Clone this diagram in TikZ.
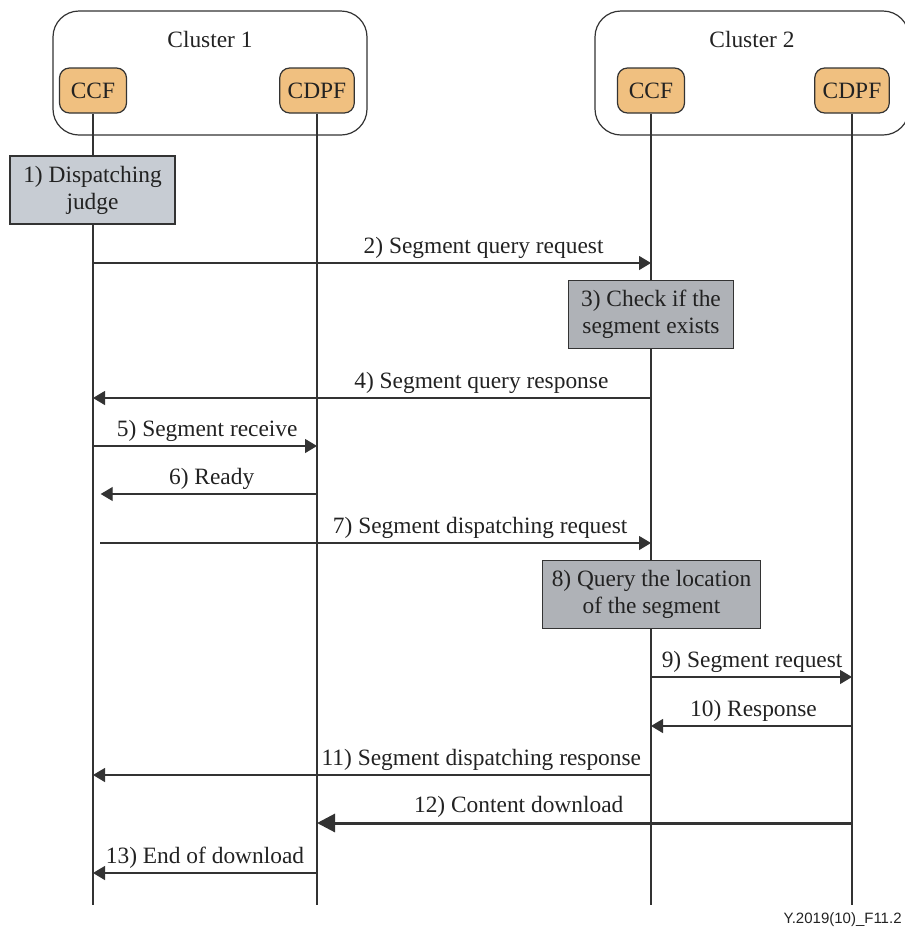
\documentclass[tikz,border=0pt]{standalone}
\usepackage{fontspec}
\setmainfont{Liberation Serif}
\newfontfamily\figfont{Liberation Sans}
\usepackage{tikz}
\usetikzlibrary{arrows.meta}

\definecolor{lineGray}{HTML}{333333}
\definecolor{textGray}{HTML}{222222}
\definecolor{funcOrange}{HTML}{F0C080}
\definecolor{judgeGray}{HTML}{C7CCD3}
\definecolor{checkGray}{HTML}{AFB2B7}

\tikzset{
	cluster/.style={draw=lineGray, line width=0.6pt, rounded corners=13pt,
		minimum width=157pt, minimum height=62pt},
	func/.style={draw=lineGray, line width=0.6pt, fill=funcOrange, rounded corners=5pt,
		minimum width=33.5pt, minimum height=22.5pt, inner xsep=4pt, text=textGray},
	action/.style={draw=lineGray, line width=0.6pt, align=center,
		minimum height=34pt, inner sep=2pt, text=textGray},
	life/.style={lineGray, line width=0.65pt},
	msg/.style={lineGray, line width=0.6pt, -{Triangle[length=6pt,width=7pt]}},
	bigmsg/.style={lineGray, line width=1.5pt, -{Triangle[length=9pt,width=9pt]}},
	lbl/.style={anchor=base, yshift=4.6pt, inner sep=0pt, text=textGray},
}

\begin{document}
\begin{tikzpicture}[x=0.5pt, y=-0.5pt, font=\fontsize{11.7}{13.5}\selectfont]
		\useasboundingbox (0,0) rectangle (905,928);
		%----------------------------------------------------
		% The two clusters and their functions
		%----------------------------------------------------
		\node [cluster] (cl1) at (210,73) {};
		\node [cluster] (cl2) at (752,73) {};
		\node [anchor=base, text=textGray] (t1) at (210,47) {Cluster 1};
		\node [anchor=base, text=textGray] (t2) at (752,47) {Cluster 2};
		
		\node [func] (ccfA)  at (93,90.5)  {CCF};
		\node [func] (cdpfA) at (317,90.5) {CDPF};
		\node [func] (ccfB)  at (651,90.5) {CCF};
		\node [func] (cdpfB) at (852,90.5) {CDPF};
		
		%----------------------------------------------------
		% Lifelines
		%----------------------------------------------------
		\coordinate (ccfA-end)  at (ccfA |- 0,905);
		\coordinate (cdpfA-end) at (cdpfA |- 0,905);
		\coordinate (ccfB-end)  at (ccfB |- 0,905);
		\coordinate (cdpfB-end) at (cdpfB |- 0,905);
		\draw [life] (ccfA)  -- (ccfA-end);
		\draw [life] (cdpfA) -- (cdpfA-end);
		\draw [life] (ccfB)  -- (ccfB-end);
		\draw [life] (cdpfB) -- (cdpfB-end);
		
		%----------------------------------------------------
		% Local steps
		%----------------------------------------------------
		\node [action, fill=judgeGray, minimum width=82.5pt] (judge) at (92.5,190)
			{1) Dispatching\\judge};
		\node [action, fill=checkGray, minimum width=82.5pt] (check) at (651,314.5)
			{3) Check if the\\segment exists};
		\node [action, fill=checkGray, minimum width=109pt] (locate) at (651.5,594.5)
			{8) Query the location\\of the segment};
		
		%----------------------------------------------------
		% Messages
		%----------------------------------------------------
		\draw [msg] (ccfA |- 0,263) -- (ccfB |- 0,263)
			node [lbl, pos=0.70] {2) Segment query request};
		\draw [msg] (ccfB |- 0,398) -- (ccfA |- 0,398)
			node [lbl, pos=0.304] {4) Segment query response};
		\draw [msg] (ccfA |- 0,446) -- (cdpfA |- 0,446)
			node [lbl, pos=0.51] {5) Segment receive};
		\coordinate (readyEnd) at (100.7,494);
		\draw [msg] (cdpfA |- 0,494) -- (readyEnd)
			node [lbl, pos=0.487] {6) Ready};
		\coordinate (dispStart) at (100,543);
		\draw [msg] (dispStart) -- (ccfB |- 0,543)
			node [lbl, pos=0.69] {7) Segment dispatching request};
		\draw [msg] (ccfB |- 0,677) -- (cdpfB |- 0,677)
			node [lbl, pos=0.503] {9) Segment request};
		\draw [msg] (cdpfB |- 0,726) -- (ccfB |- 0,726)
			node [lbl, pos=0.49] {10) Response};
		\draw [msg] (ccfB |- 0,775) -- (ccfA |- 0,775)
			node [lbl, pos=0.304] {11) Segment dispatching response};
		\draw [bigmsg] (cdpfB |- 0,823) -- (cdpfA |- 0,823)
			node [lbl, pos=0.623, yshift=0.6pt] {12) Content download};
		\draw [msg] (cdpfA |- 0,873) -- (ccfA |- 0,873)
			node [lbl, pos=0.50] {13) End of download};
		
		% figure reference
		\node [anchor=base east, inner sep=0pt, text=textGray,
			font=\figfont\fontsize{7.5}{9}\selectfont] (figref) at (902,923) {Y.2019(10)\_F11.2};
	\end{tikzpicture}
\end{document}
